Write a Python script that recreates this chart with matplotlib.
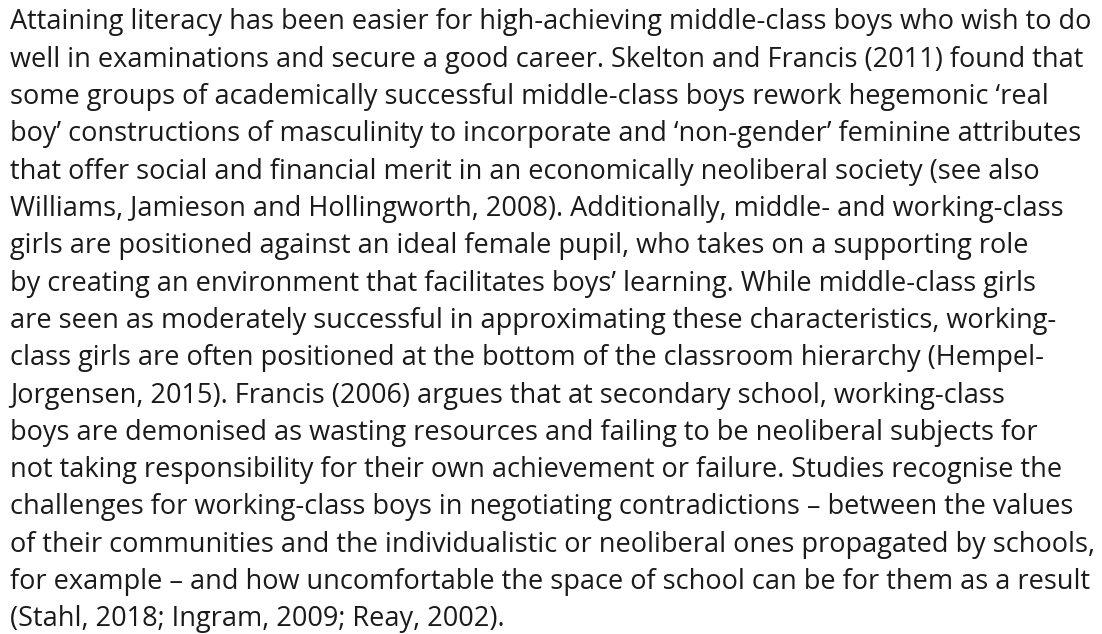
import matplotlib
matplotlib.use("Agg")
import matplotlib.pyplot as plt
from matplotlib.textpath import TextPath
from matplotlib.font_manager import FontProperties

lines = [
    "Attaining literacy has been easier for high-achieving middle-class boys who wish to do",
    "well in examinations and secure a good career. Skelton and Francis (2011) found that",
    "some groups of academically successful middle-class boys rework hegemonic \u2018real",
    "boy\u2019 constructions of masculinity to incorporate and \u2018non-gender\u2019 feminine attributes",
    "that offer social and financial merit in an economically neoliberal society (see also",
    "Williams, Jamieson and Hollingworth, 2008). Additionally, middle- and working-class",
    "girls are positioned against an ideal female pupil, who takes on a supporting role",
    "by creating an environment that facilitates boys\u2019 learning. While middle-class girls",
    "are seen as moderately successful in approximating these characteristics, working-",
    "class girls are often positioned at the bottom of the classroom hierarchy (Hempel-",
    "Jorgensen, 2015). Francis (2006) argues that at secondary school, working-class",
    "boys are demonised as wasting resources and failing to be neoliberal subjects for",
    "not taking responsibility for their own achievement or failure. Studies recognise the",
    "challenges for working-class boys in negotiating contradictions \u2013 between the values",
    "of their communities and the individualistic or neoliberal ones propagated by schools,",
    "for example \u2013 and how uncomfortable the space of school can be for them as a result",
    "(Stahl, 2018; Ingram, 2009; Reay, 2002).",
]

W, H = 1102, 634
DPI = 100
family = "Open Sans"
target_width_px = 1080.0  # first line from x=10 to x=1090

fp = FontProperties(family=family)
ref_size = 100.0
tp = TextPath((0, 0), lines[0], size=ref_size, prop=fp)
ext = tp.get_extents()
fontsize = ref_size * (target_width_px * 72.0 / DPI) / ext.width

fig = plt.figure(figsize=(W / DPI, H / DPI), dpi=DPI)
fig.patch.set_facecolor("white")

x0 = 10
base0 = 29.5
pitch = 37.3
for i, line in enumerate(lines):
    y = base0 + pitch * i
    fig.text(x0 / W, 1 - y / H, line, family=family, fontsize=fontsize,
             color="#1a1a1a", ha="left", va="baseline")

fig.savefig("out.png", dpi=DPI, facecolor="white")
